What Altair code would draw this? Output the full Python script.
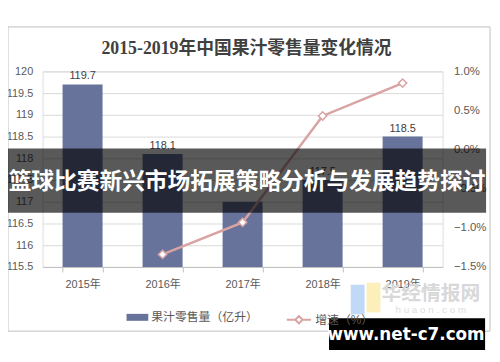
import altair as alt
import pandas as pd

years = ["2015年", "2016年", "2017年", "2018年", "2019年"]
sales = [119.7, 118.1, 117.0, 117.5, 118.5]
sales_labels = ["119.7", "118.1", "", "117.5", "118.5"]
growth_years = ["2016年", "2017年", "2018年", "2019年"]
growth = [-0.0134, -0.0093, 0.0043, 0.0085]
left_ticks = [115.5, 116, 116.5, 117, 117.5, 118, 118.5, 119, 119.5, 120]
right_ticks = [-0.015, -0.01, -0.005, 0.0, 0.005, 0.01]
sales_name = "果汁零售量（亿升）"
growth_name = "增速（%）"
title_text = "2015-2019年中国果汁零售量变化情况"
banner_text = "篮球比赛新兴市场拓展策略分析与发展趋势探讨"
wm_site = "www.net-c7.com"
wm_cn = "华经情报网"
wm_en = "h u a o n . c o m"

BAR = "#67739B"
LINE = "#D9A3A3"
FONT = "Liberation Sans, Noto Sans CJK SC"

bars_df = pd.DataFrame({"year": years, "sales": sales, "lab": sales_labels,
                        "s": [sales_name] * len(years)})
line_df = pd.DataFrame({"year": growth_years, "g": growth, "s": [growth_name] * len(growth_years)})
one = pd.DataFrame({"k": [0]})

x_enc = alt.X(
    "year:N", sort=years,
    scale=alt.Scale(paddingInner=0.5, paddingOuter=0.25),
    axis=alt.Axis(title=None, labelAngle=0, tickBand="extent", domainColor="#BFBFBF",
                  tickColor="#BFBFBF", tickSize=5, labelPadding=7, labelFontSize=11,
                  labelColor="#595959", labelFont=FONT),
)

y_left = alt.Y(
    "sales:Q",
    scale=alt.Scale(domain=[115.5, 120], zero=False, nice=False),
    axis=alt.Axis(title=None, values=left_ticks, format="~f", grid=True, gridColor="#D9D9D9",
                  domain=False, ticks=False, labelPadding=10, labelFontSize=11,
                  labelColor="#595959", labelFont=FONT, labelOverlap=False),
)

y_right = alt.Y(
    "g:Q",
    scale=alt.Scale(domain=[-0.015, 0.01], zero=False, nice=False),
    axis=alt.Axis(orient="right", title=None, values=right_ticks, format=".1%", grid=False,
                  domain=False, ticks=False, labelPadding=11, labelFontSize=11.5,
                  labelColor="#595959", labelFont=FONT, labelOverlap=False),
)

frame = alt.Chart(one).mark_rect(fill="transparent", stroke="#BFBFBF", strokeWidth=1).encode(
    x=alt.value(-35), x2=alt.value(453), y=alt.value(-45), y2=alt.value(263)
)

bars = alt.Chart(bars_df).mark_bar(clip=True).encode(
    x=x_enc,
    y=y_left,
    color=alt.Color("s:N", scale=alt.Scale(range=[BAR]),
                    legend=alt.Legend(title=None, orient="none", legendX=85, legendY=238,
                                      symbolType="M-1,-0.32H1V0.32H-1Z", symbolSize=484,
                                      symbolStrokeWidth=0, labelFontSize=12, labelColor="#595959",
                                      labelFont=FONT, labelOffset=3)),
)

labels = alt.Chart(bars_df).mark_text(dy=-8, fontSize=11, color="#404040", font=FONT).encode(
    x=x_enc,
    y=y_left,
    text="lab:N",
)

left_layer = alt.layer(bars, labels)

line = alt.Chart(line_df).mark_line(strokeWidth=2.5).encode(
    x=x_enc,
    y=y_right,
    stroke=alt.Stroke("s:N", scale=alt.Scale(range=[LINE]),
                      legend=alt.Legend(title=None, orient="none", legendX=246, legendY=238,
                                        symbolType="M-1,0H-0.3M0.3,0H1M-0.3,0L0,-0.3L0.3,0L0,0.3Z",
                                        symbolSize=600, symbolStrokeWidth=2,
                                        symbolFillColor="white", labelFontSize=12,
                                        labelColor="#595959", labelFont=FONT, labelOffset=3)),
)

points = alt.Chart(line_df).mark_point(shape="diamond", filled=True, fill="white", stroke=LINE,
                                       strokeWidth=1.5, size=70, opacity=1).encode(
    x=x_enc,
    y=y_right,
)

right_layer = alt.layer(line, points)

banner_rect = alt.Chart(one).mark_rect(fill="black", opacity=0.65).encode(
    x=alt.value(-35), x2=alt.value(449), y=alt.value(78), y2=alt.value(143)
)
banner = alt.Chart(pd.DataFrame({"t": [banner_text]})).mark_text(
    fontSize=23, fontWeight="bold", color="white", font="Noto Sans CJK SC", baseline="middle"
).encode(x=alt.value(207), y=alt.value(112), text="t:N")

wm_cn_t = alt.Chart(pd.DataFrame({"t": [wm_cn]})).mark_text(
    fontSize=20, fontWeight="bold", color="#D8D8D8", font="Noto Sans CJK SC", baseline="middle"
).encode(x=alt.value(393), y=alt.value(225), text="t:N")
wm_en_t = alt.Chart(pd.DataFrame({"t": [wm_en]})).mark_text(
    fontSize=10, color="#DDDDDD", font=FONT, baseline="middle"
).encode(x=alt.value(393), y=alt.value(242), text="t:N")
logo_b = alt.Chart(one).mark_rect(fill="#AFCFF5", opacity=0.8).encode(
    x=alt.value(312), x2=alt.value(326), y=alt.value(216), y2=alt.value(246)
)
logo_y = alt.Chart(one).mark_rect(fill="#FBEBA8", opacity=0.8).encode(
    x=alt.value(328), x2=alt.value(342), y=alt.value(214), y2=alt.value(244)
)
site_rect = alt.Chart(one).mark_rect(fill="black").encode(
    x=alt.value(290), x2=alt.value(448), y=alt.value(250), y2=alt.value(282)
)
site_t = alt.Chart(pd.DataFrame({"t": [wm_site]})).mark_text(
    fontSize=17, fontWeight="bold", color="white", font="DejaVu Sans", baseline="middle"
).encode(x=alt.value(368), y=alt.value(267), text="t:N")

main = alt.layer(left_layer, right_layer).resolve_scale(y="independent")

chart = alt.layer(
    frame, main, banner_rect, banner, logo_b, logo_y, wm_cn_t, wm_en_t, site_rect, site_t
).properties(
    width=405,
    height=198,
    padding={"left": 35, "top": 62, "right": 50, "bottom": 90},
    autosize=alt.AutoSizeParams(type="none"),
    title=alt.TitleParams(text=title_text, font="Liberation Serif, Noto Sans CJK SC",
                          fontSize=18, fontWeight="bold", color="#404040", anchor="middle",
                          frame="group", offset=16, dx=4, dy=48),
).configure_view(stroke=None).configure(background="white")

chart.save("out.html", embed_options={"renderer": "svg", "actions": False})
